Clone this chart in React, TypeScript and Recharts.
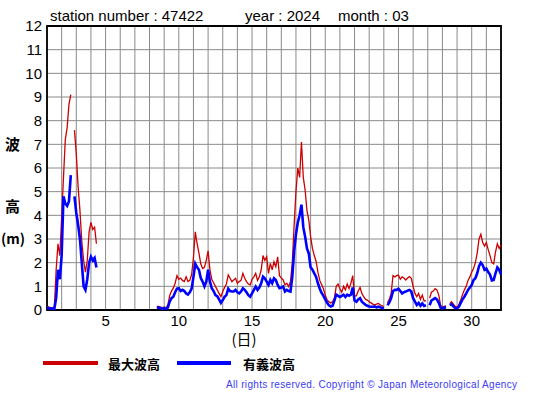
import React from "react";
import { LineChart, Line, XAxis, YAxis, CartesianGrid, ReferenceArea } from "recharts";

const N = null;

// 3-hourly readings (m), 8 per day from day 1 00h; last value is day 32 00h
const maxWave: (number | null)[] = [
  0.15, 0.12, 0.1, 0.1, 0.08, 1.7, 2.8, 2.3, // 1
  3.9, 5.6, 7.2, 7.7, 8.7, 9.1, N, 7.6, // 2
  6.6, 5.2, 4.2, 2.9, 2.1, 1.6, 2.1, 3.3, // 3
  3.7, 3.4, 3.5, 2.8, N, N, N, N, // 4
  N, N, N, N, N, N, N, N, // 5
  N, N, N, N, N, N, N, N, // 6
  N, N, N, N, N, N, N, N, // 7
  N, N, N, N, 0.15, 0.15, 0.12, 0.1, // 8
  0.12, 0.1, 0.2, 0.6, 0.8, 0.92, 1.13, 1.45, // 9
  1.3, 1.35, 1.25, 1.2, 1.4, 1.2, 1.25, 1.5, // 10
  2.2, 3.3, 2.8, 2.4, 1.95, 1.75, 1.8, 2.1, // 11
  2.5, 1.7, 1.3, 1.15, 1.0, 0.85, 0.7, 0.56, // 12
  0.78, 0.95, 1.1, 1.48, 1.34, 1.2, 1.27, 1.34, // 13
  1.13, 1.2, 1.25, 1.55, 1.34, 1.2, 1.1, 1.06, // 14
  1.3, 1.4, 1.55, 1.25, 1.4, 1.7, 2.3, 2.1, // 15
  2.25, 1.55, 1.97, 1.7, 2.04, 1.83, 2.25, 1.45, // 16
  1.35, 1.27, 1.06, 1.13, 0.99, 1.2, 2.0, 3.6, // 17
  5.0, 6.0, 5.6, 7.1, 5.6, 5.07, 4.2, 3.8, // 18
  3.1, 2.6, 2.3, 2.05, 1.6, 1.25, 1.08, 0.9, // 19
  0.63, 0.42, 0.35, 0.3, 0.35, 0.5, 1.0, 1.1, // 20
  0.9, 0.75, 1.0, 0.85, 1.1, 0.9, 1.13, 1.45, // 21
  0.6, 0.6, 0.8, 0.95, 0.7, 0.56, 0.45, 0.42, // 22
  0.35, 0.3, 0.25, 0.22, 0.25, 0.28, 0.22, 0.17, // 23
  0.15, N, 0.3, 0.45, 0.7, 1.45, 1.4, 1.45, // 24
  1.48, 1.3, 1.4, 1.35, 1.27, 1.35, 1.41, 1.34, // 25
  1.0, 0.7, 0.56, 0.7, 0.45, 0.63, 0.38, 0.4, // 26
  N, 0.5, 0.75, 0.8, 0.9, 0.85, 0.63, 0.2, // 27
  0.12, 0.15, 0.17, N, 0.28, 0.35, 0.25, 0.15, // 28
  0.12, 0.22, 0.42, 0.65, 0.85, 1.0, 1.25, 1.4, // 29
  1.6, 1.75, 2.0, 2.4, 3.0, 3.2, 2.85, 2.7, // 30
  2.85, 2.55, 2.3, 2.0, 1.95, 2.45, 2.8, 2.6, // 31
  2.75,
];

const sigWave: (number | null)[] = [
  0.1, 0.08, 0.05, 0.06, 0.05, 0.5, 1.7, 1.3, // 1
  2.3, 4.8, 4.5, 4.4, 4.6, 5.7, N, 4.8, // 2
  4.1, 3.6, 3.0, 2.0, 1.0, 0.85, 1.3, 2.0, // 3
  2.25, 2.1, 2.2, 1.8, N, N, N, N, // 4
  N, N, N, N, N, N, N, N, // 5
  N, N, N, N, N, N, N, N, // 6
  N, N, N, N, N, N, N, N, // 7
  N, N, N, N, 0.1, 0.1, 0.08, 0.05, // 8
  0.08, 0.05, 0.1, 0.35, 0.5, 0.56, 0.75, 0.9, // 9
  0.92, 0.8, 0.85, 0.8, 0.7, 0.65, 0.75, 0.9, // 10
  1.4, 1.95, 1.8, 1.7, 1.35, 1.2, 1.0, 1.2, // 11
  1.7, 1.2, 0.92, 0.8, 0.63, 0.58, 0.45, 0.3, // 12
  0.42, 0.56, 0.63, 0.9, 0.8, 0.78, 0.78, 0.85, // 13
  0.75, 0.7, 0.78, 0.92, 0.85, 0.75, 0.63, 0.56, // 14
  0.7, 0.85, 0.99, 0.85, 0.95, 1.13, 1.41, 1.34, // 15
  1.2, 1.06, 1.27, 1.13, 1.34, 1.27, 1.06, 0.92, // 16
  0.95, 0.99, 0.78, 0.85, 0.8, 0.78, 1.4, 2.5, // 17
  3.2, 3.7, 4.0, 4.45, 3.5, 3.1, 2.6, 2.39, // 18
  1.8, 1.7, 1.55, 1.4, 1.13, 0.9, 0.72, 0.6, // 19
  0.45, 0.3, 0.2, 0.15, 0.18, 0.4, 0.65, 0.6, // 20
  0.55, 0.6, 0.65, 0.55, 0.65, 0.6, 0.65, 0.95, // 21
  0.4, 0.35, 0.45, 0.5, 0.35, 0.28, 0.22, 0.18, // 22
  0.15, 0.14, 0.14, 0.15, 0.11, 0.14, 0.12, 0.08, // 23
  0.07, N, 0.2, 0.32, 0.5, 0.8, 0.85, 0.85, // 24
  0.9, 0.8, 0.7, 0.75, 0.78, 0.82, 0.85, 0.78, // 25
  0.5, 0.35, 0.21, 0.3, 0.18, 0.28, 0.17, 0.2, // 26
  N, 0.2, 0.4, 0.45, 0.5, 0.45, 0.3, 0.1, // 27
  0.07, 0.1, 0.11, N, 0.21, 0.25, 0.15, 0.08, // 28
  0.07, 0.14, 0.3, 0.45, 0.56, 0.7, 0.85, 0.95, // 29
  1.06, 1.27, 1.34, 1.55, 1.85, 2.0, 1.9, 1.7, // 30
  1.75, 1.6, 1.5, 1.25, 1.27, 1.55, 1.8, 1.7, // 31
  1.5,
];

const dayTicks = [1, 2, 3, 4, 5, 6, 7, 8, 9, 10, 11, 12, 13, 14, 15, 16, 17, 18, 19, 20, 21, 22, 23, 24, 25, 26, 27, 28, 29, 30, 31, 32];
const labeledDays = [5, 10, 15, 20, 25, 30];
const heightTicks = [0, 1, 2, 3, 4, 5, 6, 7, 8, 9, 10, 11, 12];

const STEPS_PER_DAY = 8;
const data = maxWave.map((v, i) => ({ day: 1 + i / STEPS_PER_DAY, max: v, sig: sigWave[i] }));

const RED = "#cc0000";
const BLUE = "#0000ff";
const latin = "'Liberation Sans', Arial, sans-serif";
const cjk = "'Noto Sans CJK JP', sans-serif";
const tickStyle = { fontSize: 15, fill: "#000", fontFamily: latin };

export default function App() {
  return (
    <div style={{ position: "absolute", left: 0, top: 0, width: 555, height: 395, background: "#fff" }}>
      <LineChart width={555} height={395} data={data} margin={{ top: 26, right: 54, bottom: 55, left: 0 }}>
        <CartesianGrid stroke="#8a8a8a" strokeWidth={1} />
        <XAxis
          dataKey="day"
          type="number"
          domain={[1, 32]}
          ticks={dayTicks}
          interval={0}
          tickFormatter={(v) => (labeledDays.includes(v) ? String(v) : "")}
          tick={tickStyle}
          tickLine={false}
          axisLine={false}
          tickSize={3}
          tickMargin={2}
          height={30}
        />
        <YAxis
          type="number"
          domain={[0, 12]}
          ticks={heightTicks}
          interval={0}
          tick={tickStyle}
          tickLine={false}
          axisLine={false}
          tickSize={2}
          tickMargin={3}
          width={47}
        />
        <Line dataKey="max" stroke={RED} strokeWidth={1.3} dot={false} type="linear" isAnimationActive={false} />
        <Line dataKey="sig" stroke={BLUE} strokeWidth={2.6} dot={false} type="linear" isAnimationActive={false} />
        <ReferenceArea x1={1} x2={32} y1={0} y2={12} fill="none" stroke="#000" strokeWidth={1.8} ifOverflow="visible" />
      </LineChart>

      <svg width={555} height={395} style={{ position: "absolute", left: 0, top: 0, pointerEvents: "none" }}>
        <text x={50} y={21} fontSize={15} fontFamily={latin} fill="#000">station number : 47422</text>
        <text x={245} y={21} fontSize={15} fontFamily={latin} fill="#000">year : 2024</text>
        <text x={338} y={21} fontSize={15} fontFamily={latin} fill="#000">month : 03</text>

        <text x={12.5} y={143} fontSize={15} fontFamily={cjk} fontWeight={700} textAnchor="middle" dominantBaseline="central">波</text>
        <text x={12.5} y={205} fontSize={15} fontFamily={cjk} fontWeight={700} textAnchor="middle" dominantBaseline="central">高</text>
        <text x={13} y={238} fontSize={14} fontFamily={cjk} fontWeight={700} textAnchor="middle" dominantBaseline="central">(m)</text>

        <text x={244} y={338} fontSize={15} fontFamily={cjk} textAnchor="middle" dominantBaseline="central">(日)</text>

        <line x1={43} x2={98} y1={363} y2={363} stroke={RED} strokeWidth={4} />
        <text x={108} y={363} fontSize={13} fontFamily={cjk} fontWeight={700} dominantBaseline="central">最大波高</text>
        <line x1={177} x2={231} y1={363} y2={363} stroke={BLUE} strokeWidth={4} />
        <text x={243} y={363} fontSize={13} fontFamily={cjk} fontWeight={700} dominantBaseline="central">有義波高</text>

        <text x={226} y={388} fontSize={10} fontFamily={latin} fill="#3c3cf0" textLength={291} lengthAdjust="spacing">
          All rights reserved. Copyright © Japan Meteorological Agency
        </text>
      </svg>
    </div>
  );
}
